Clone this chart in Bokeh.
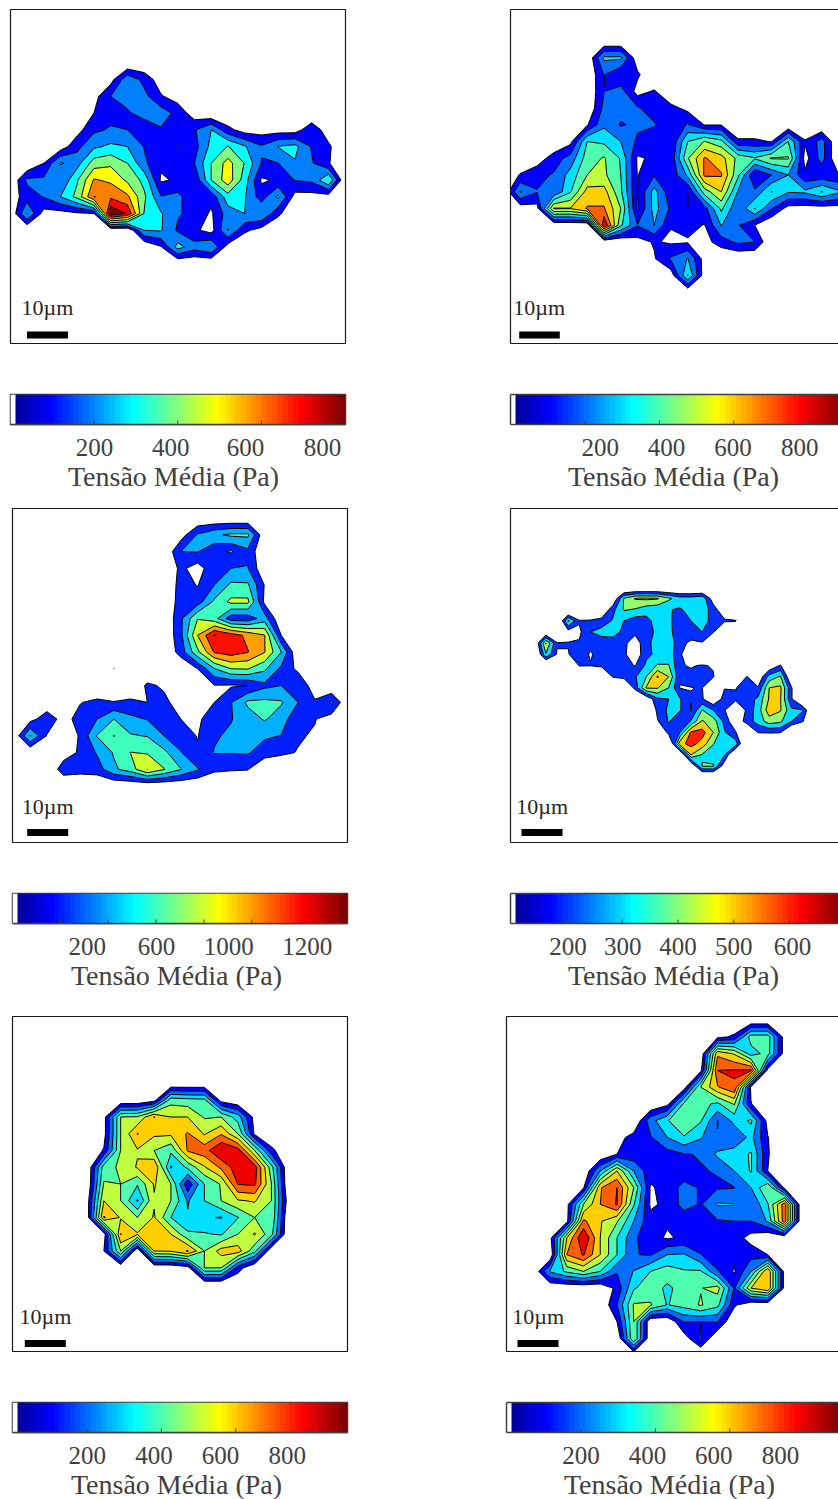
import numpy as np
from bokeh.core.properties import value
from bokeh.embed import file_html
from bokeh.layouts import column, row
from bokeh.models import FixedTicker, LinearAxis, LinearColorMapper, Range1d
from bokeh.plotting import figure
from bokeh.resources import INLINE

# Sampled stress fields (Pa): (row, first column, values); every other node is 0.
Z1 = [
    (4, 6, [60, 270, 170, 40]),
    (5, 5, [60, 200, 230, 230, 110, 50]),
    (6, 5, [100, 170, 190, 230, 250, 170, 40]),
    (7, 4, [60, 180, 210, 200, 150, 190, 150, 190, 300, 130, 50, 50, 50, 50, 170, 40]),
    (8, 3, [40, 170, 280, 320, 300, 195, 150, 98, 160, 330, 405, 310, 210, 305, 330, 190, 120]),
    (9, 2, [100, 310, 260, 450, 480, 400, 220, 120, 130, 200, 400, 540, 395, 195, 198, 290, 210, 110]),
    (10, 1, [220, 220, 205, 390, 610, 580, 480, 370, 85, 115, 115, 400, 560, 350, 85, 115, 205, 220, 400]),
    (11, 0, [40, 150, 205, 300, 430, 702, 680, 620, 420, 205, 230, 115, 130, 360, 310, 150, 320, 60, 60, 50]),
    (12, 0, [0, 305, 60, 60, 85, 100, 890, 790, 395, 310, 210, 170, 85, 250, 300, 300, 125]),
    (13, 8, [300, 310, 185, 120, 60, 305, 120, 60]),
    (14, 9, [90, 340, 240, 301, 50]),
]
Z2 = [
    (3, 6, [320, 320, 27]),
    (4, 6, [205, 110, 119]),
    (5, 6, [198, 240, 60, 110]),
    (6, 6, [230, 240, 210, 150, 130, 70]),
    (7, 5, [90, 280, 190, 220, 210, 120, 210, 95, 95]),
    (8, 4, [70, 400, 380, 300, 180, 120, 110, 400, 505, 430, 120, 120, 95, 400, 110, 240, 0]),
    (9, 2, [40, 150, 240, 450, 510, 390, 85, 120, 130, 490, 710, 640, 470, 410, 510, 510, 60, 240, 0]),
    (10, 1, [110, 170, 210, 340, 500, 520, 400, 95, 190, 130, 320, 720, 710, 420, 95, 200, 300, 120, 130, 105, 105]),
    (11, 1, [310, 205, 210, 390, 640, 640, 420, 95, 340, 120, 100, 450, 600, 290, 220, 405, 310, 320, 405, 320, 300]),
    (12, 1, [40, 60, 610, 605, 710, 710, 500, 90, 340, 180, 100, 160, 420, 210, 405, 205, 60, 50, 50, 50, 50]),
    (13, 3, [0, 0, 0, 900, 420, 205, 300, 105, 130, 95, 305, 210, 100]),
    (14, 8, [60, 110, 85, 90, 60, 150, 220, 200]),
    (15, 9, [90, 215, 305, 50]),
    (16, 10, [40, 405, 40]),
]
Z3 = [
    (2, 10, [100, 420, 560, 640, 640, 30]),
    (3, 10, [400, 410, 250, 180, 350, 0]),
    (4, 10, [250, 100, 350, 400, 410, 20]),
    (5, 10, [280, 190, 400, 640, 630, 190]),
    (6, 10, [300, 300, 640, 850, 850, 150]),
    (7, 10, [360, 790, 680, 280, 280, 500]),
    (8, 10, [350, 1000, 1410, 1300, 1150, 1010, 200]),
    (9, 10, [290, 750, 1220, 1300, 1210, 1010, 600]),
    (10, 6, [203]),
    (10, 11, [200, 590, 800, 810, 640, 350, 150]),
    (11, 8, [238, 170, 0, 0, 190, 180, 200, 350, 400, 400, 60]),
    (12, 2, [50, 0, 190, 250, 210, 250, 200, 250, 100, 0, 200, 390, 640, 650, 620, 400, 230, 430]),
    (13, 1, [120, 320, 120, 280, 400, 600, 450, 390, 380, 200, 190, 230, 390, 500, 620, 500, 240, 210, 100]),
    (14, 1, [620, 190, 0, 230, 610, 810, 620, 590, 400, 300, 190, 380, 430, 420, 430, 395, 220, 180]),
    (15, 3, [100, 230, 420, 620, 805, 780, 650, 410, 220, 410, 410, 420, 300, 240, 190]),
    (16, 3, [310, 280, 300, 560, 700, 1003, 810, 610, 420, 240, 220, 210]),
]
Z4 = [
    (8, 9, [80, 410, 510, 520, 510, 420, 350, 350, 380, 130]),
    (9, 8, [80, 270, 410, 390, 340, 320, 305, 290, 330, 350, 260, 90]),
    (10, 5, [420, 210, 215, 240, 310, 300, 250, 270, 340, 320, 250, 300, 360, 250, 220, 210]),
    (11, 3, [80, 0, 150, 180, 300, 340, 350, 270, 220, 230, 340, 340, 220, 250, 300, 210]),
    (12, 2, [60, 510, 210, 205, 210, 220, 240, 240, 220, 150, 260, 360, 370, 230, 180, 190]),
    (13, 2, [0, 390, 190, 195, 250, 190, 240, 240, 220, 120, 280, 320, 360, 220, 100]),
    (14, 6, [210, 205, 230, 230, 230, 195, 320, 410, 405, 210, 190, 210, 190]),
    (14, 23, [100, 210, 50]),
    (15, 9, [210, 240, 290, 400, 610, 500, 205, 230, 250, 210]),
    (15, 21, [205, 100, 340, 410, 60]),
    (16, 11, [240, 510, 510, 400, 198, 198, 205, 0, 195, 190, 300, 210, 500, 520, 210]),
    (17, 12, [100, 280, 300, 310, 205, 210, 100, 240, 240, 250, 320, 510, 510, 210]),
    (18, 13, [230, 320, 310, 190, 405, 300, 210, 0, 230, 350, 560, 510, 320, 310]),
    (19, 13, [190, 310, 195, 310, 510, 450, 270, 100, 250, 340, 450, 420, 300, 210]),
    (20, 14, [240, 300, 620, 640, 500, 310, 210, 0, 205, 210, 205]),
    (21, 14, [0, 560, 640, 560, 405, 320, 350]),
    (22, 15, [0, 500, 390, 350, 305]),
    (23, 16, [60, 405, 410, 130]),
]
Z5 = [
    (5, 8, [60, 460, 440, 430, 60]),
    (6, 5, [60, 500, 510, 705, 600, 600, 490, 500, 350, 60]),
    (7, 5, [60, 500, 705, 620, 620, 710, 590, 690, 500, 80]),
    (8, 5, [110, 500, 590, 500, 420, 710, 760, 902, 850, 500, 130]),
    (9, 4, [0, 450, 520, 610, 690, 290, 420, 590, 720, 860, 850, 440]),
    (10, 5, [510, 500, 410, 610, 500, 120, 400, 510, 805, 820, 500]),
    (11, 4, [50, 600, 500, 290, 590, 500, 290, 400, 500, 590, 610, 500, 50]),
    (12, 4, [50, 710, 590, 500, 610, 400, 310, 310, 295, 395, 500, 490]),
    (13, 5, [50, 705, 610, 700, 600, 420, 410, 390, 500, 610, 430]),
    (14, 5, [100, 500, 0, 600, 610, 710, 500, 640, 650, 430]),
    (15, 10, [50, 505, 500, 150]),
]
Z6 = [
    (1, 12, [70, 120, 450, 450, 50]),
    (2, 11, [0, 680, 590, 350, 440, 50]),
    (3, 11, [70, 800, 810, 820, 60]),
    (4, 10, [50, 500, 690, 790, 80]),
    (5, 9, [70, 420, 430, 380, 510, 105]),
    (6, 8, [260, 390, 500, 410, 195, 330, 420, 60]),
    (7, 6, [60, 140, 190, 300, 390, 310, 205, 220, 330, 105]),
    (8, 6, [100, 130, 150, 160, 195, 205, 320, 350, 410, 110]),
    (9, 4, [0, 300, 600, 300, 130, 120, 130, 195, 205, 300, 410, 100]),
    (10, 4, [90, 690, 800, 500, 90, 130, 240, 190, 190, 195, 300, 500, 80]),
    (11, 3, [60, 500, 700, 810, 410, 85, 120, 240, 190, 310, 305, 205, 390, 760]),
    (12, 3, [60, 720, 610, 510, 300, 130, 110, 130, 150, 190, 200, 200, 310, 760]),
    (13, 2, [60, 600, 900, 600, 400, 220, 130, 90, 115, 120, 190, 150, 60]),
    (14, 3, [700, 810, 600, 400, 205, 190, 300, 310, 205, 110, 115, 160, 100]),
    (15, 2, [310, 420, 500, 400, 210, 305, 400, 450, 410, 410, 210, 90, 300, 700, 60]),
    (16, 6, [130, 390, 450, 380, 440, 495, 540, 190, 600, 700, 60]),
    (17, 6, [200, 510, 510, 395, 440, 510, 430, 120]),
    (18, 6, [100, 500, 0, 0, 205, 199, 205]),
    (19, 7, [500, 0, 0, 50, 210]),
]

# Colour-bar scales, tick marks and printed labels (they do not coincide in the source figure)
RANGES = [(0, 801), (0, 900), (0, 1400), (100, 700), (0, 900), (0, 900)]
STEPS = [100, 100, 200, 100, 100, 100]
FIRST_LEVEL = [100, 100, 200, 200, 100, 100]
TICKS = [[200, 400, 600], [200, 400, 600, 800], [200, 400, 600, 800, 1000, 1200],
         [200, 300, 400, 500, 600], [200, 400, 600, 800], [200, 400, 600, 800]]
LABELS = [["200", "400", "600", "800"], ["200", "400", "600", "800"],
          ["200", "600", "1000", "1200"], ["200", "300", "400", "500", "600"],
          ["200", "400", "600", "800"], ["200", "400", "600", "800"]]
LABEL_PX = [[94, 170, 245, 322], [599.7, 666, 732.7, 799.3], [86.7, 156, 228.3, 306.7],
            [567.7, 622, 677.7, 733.3, 791.7], [87, 153.3, 220, 286.7], [580.3, 647, 713.3, 780]]
TITLE = "Tensão Média (Pa)"
TITLE_CENTER = [173, 673, 176, 673, 176, 669]
SCALE_TEXT = "10µm"

FONT = "Liberation Serif"
GRIDS = [  # step, node offset x, node offset y, in frame pixels
    (16.75, -0.3, 3.0), (16.75, -7.0, -2.0), (16.75, 0.8, -7.2),
    (11.167, 1.83, 0.67), (16.75, 7.67, 0.0), (16.75, 10.0, 3.67),
]
FRAME_X = [10, 510, 12, 510, 12, 506]
# cell geometry: canvas top, frame top, frame bottom, bar top, bar bottom, cell end
ROWS = [(0, 9, 343, 394, 424, 500), (500, 508, 842, 893, 923, 1000), (1000, 1016, 1351, 1402, 1432, 1499)]
COL_LEFT = [0, 500]
COL_RIGHT = [500, 838]
BAR_X = [(16.5, 57.5), (8.7, 49.3), (14.7, 55.7), (11, 52), (12.3, 53.3), (11, 52)]
TEXT_X = [11, 2.7, 9.3, 5.7, 7, 5.7]
TEXT_Y = [298, 297.5, 297.5, 297.5, 299.7, 299.7]
BAR_Y = [(322, 329), (322, 329), (320.5, 327.5), (320.5, 327.5), (323.5, 330.5), (323.5, 330.5)]
INK = "#404040"
LABEL_BAND = 38


def jet(n):
    out = []
    for i in range(n):
        t = (i + 1) / n
        r = np.clip(min(4 * t - 1.5, -4 * t + 4.5), 0, 1)
        g = np.clip(min(4 * t - 0.5, -4 * t + 3.5), 0, 1)
        b = np.clip(min(4 * t + 0.5, -4 * t + 2.5), 0, 1)
        out.append("#%02x%02x%02x" % (int(r * 255), int(g * 255), int(b * 255)))
    out[0] = "#ffffff"
    return out


PALETTE = jet(64)


def base_fig(col, fx, frame_w, top, bottom, frame_top, frame_bottom, xr, yr):
    w = COL_RIGHT[col] - COL_LEFT[col]
    p = figure(width=w, height=bottom - top, output_backend="svg", toolbar_location=None,
               x_range=xr, y_range=yr,
               min_border_left=fx - COL_LEFT[col], min_border_top=frame_top - top,
               min_border_bottom=bottom - frame_bottom,
               min_border_right=w - (fx - COL_LEFT[col]) - frame_w,
               x_axis_type=None, y_axis_type=None)
    p.frame_align = False
    p.grid.visible = False
    return p


def frame_axes(p, color, width, right_cut, places):
    if not right_cut:
        p.outline_line_color = color
        p.outline_line_width = width
        p.outline_line_alpha = 1
        return
    p.outline_line_color = None
    for place in places:
        ax = LinearAxis(ticker=FixedTicker(ticks=[]), axis_line_color=color, axis_line_width=width,
                        major_tick_line_color=None, minor_tick_line_color=None)
        p.add_layout(ax, place)


def field(rows, step, ox, oy, n):
    z = np.zeros((n, n))
    for j, k, vals in rows:
        for i, v in enumerate(vals):
            z[j, k + i] = v
    return ox + np.arange(n) * step, oy + np.arange(n) * step, z


def panel(i, rows):
    col = i % 2
    ytop, ftop, fbot, btop, _, _ = ROWS[i // 2]
    fx = FRAME_X[i]
    right_cut = col == 1
    frame_w = (838 - fx) if right_cut else 335
    frame_h = fbot - ftop
    p = base_fig(col, fx, frame_w, ytop, btop - 34, ftop, fbot, Range1d(0, frame_w), Range1d(frame_h, 0))
    step, ox, oy = GRIDS[i]
    n = 31 if step < 12 else 22
    x, y, z = field(rows, step, ox, oy, n)
    cmin, cmax = RANGES[i]
    lv = list(np.arange(FIRST_LEVEL[i], z.max() + STEPS[i] + 1, STEPS[i]))
    cols = [PALETTE[min(63, int((l - cmin) / (cmax - cmin) * 64))] for l in lv[:-1]]
    p.contour(x, y, z, levels=lv, fill_color=cols, line_color="black", line_width=1)
    p.quad(left=[BAR_X[i][0]], right=[BAR_X[i][1]], top=[BAR_Y[i][0]], bottom=[BAR_Y[i][1]],
           fill_color="black", line_color=None)
    p.text(x=[TEXT_X[i]], y=[TEXT_Y[i]], text=[SCALE_TEXT], text_font=value(FONT), text_font_size="22px",
           text_color="#262626", text_baseline="middle", text_align="left")
    frame_axes(p, "#1a1a1a", 1.2, right_cut, ("left", "above", "below"))
    return p


def colorbar(i):
    col = i % 2
    _, _, _, btop, bbot, _ = ROWS[i // 2]
    fx = FRAME_X[i]
    right_cut = col == 1
    frame_w = (838 - fx) if right_cut else 335
    cmin, cmax = RANGES[i]
    span = cmax - cmin
    xend = cmin + span * frame_w / 335
    p = base_fig(col, fx, frame_w, btop - 34, bbot + LABEL_BAND, btop, bbot, Range1d(cmin, xend), Range1d(0, 1))
    mapper = LinearColorMapper(palette=PALETTE, low=0, high=63)
    p.image(image=[np.arange(64).reshape(1, 64)], x=cmin, y=0, dw=span, dh=1, color_mapper=mapper)
    h_tick = 4 / (bbot - btop)
    p.segment(x0=TICKS[i], x1=TICKS[i], y0=[0] * len(TICKS[i]), y1=[h_tick] * len(TICKS[i]),
              line_color=INK, line_width=1)
    pos = [int(round(cmin + (px - fx) / 335 * span)) for px in LABEL_PX[i]]
    lab_axis = LinearAxis(ticker=FixedTicker(ticks=pos), axis_line_color=INK, axis_line_width=1.5,
                          major_tick_line_color=None, minor_tick_line_color=None, major_label_standoff=8,
                          major_label_overrides=dict(zip(pos, LABELS[i])),
                          major_label_text_font=FONT, major_label_text_font_size="25px",
                          major_label_text_color=INK)
    p.add_layout(lab_axis, "below")
    frame_axes(p, INK, 1.5, right_cut, ("left", "above"))
    return p


def title_fig(i):
    col = i % 2
    _, _, _, _, bbot, end = ROWS[i // 2]
    w = COL_RIGHT[col] - COL_LEFT[col]
    top = bbot + LABEL_BAND
    p = figure(width=w, height=end - top, output_backend="svg", toolbar_location=None,
               x_range=Range1d(COL_LEFT[col], COL_RIGHT[col]), y_range=Range1d(end, top),
               min_border=0, x_axis_type=None, y_axis_type=None)
    p.frame_align = False
    p.grid.visible = False
    p.outline_line_color = None
    p.text(x=[TITLE_CENTER[i]], y=[bbot + 51.5], text=[TITLE], text_font=value(FONT), text_font_size="28px",
           text_color=INK, text_align="center", text_baseline="middle")
    return p


fields = [Z1, Z2, Z3, Z4, Z5, Z6]
left, right = [], []
for i, rows in enumerate(fields):
    (left if i % 2 == 0 else right).extend([panel(i, rows), colorbar(i), title_fig(i)])

page = row(column(*left, spacing=0), column(*right, spacing=0), spacing=0)
open("out.html", "w").write(file_html(page, INLINE))
